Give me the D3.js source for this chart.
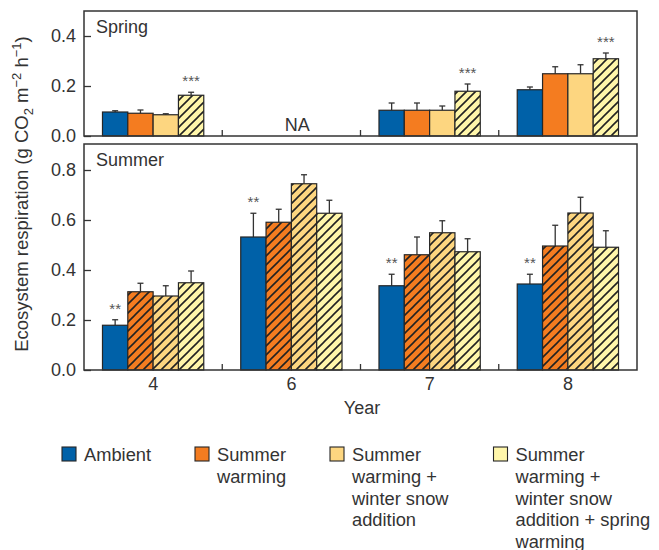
<!DOCTYPE html>
<html>
<head>
<meta charset="utf-8">
<script src="https://cdn.jsdelivr.net/npm/d3@7"></script>
<style>
  body { margin: 0; background: #fff; }
  svg { display: block; font-family: "Liberation Sans", Arial, Helvetica, sans-serif; }
</style>
</head>
<body>
<svg id="chart" width="659" height="550"></svg>
<script>
// Ecosystem respiration by year and treatment
const years = ["4", "6", "7", "8"];
const treatments = ["Ambient", "Summer warming", "Summer warming + winter snow addition",
  "Summer warming + winter snow addition + spring warming"];
const legendLines = [
  ["Ambient"],
  ["Summer", "warming"],
  ["Summer", "warming +", "winter snow", "addition"],
  ["Summer", "warming +", "winter snow", "addition + spring", "warming"]
];
const colors = ["#0061a8", "#f47c20", "#fdd680", "#fff6aa"];

// Spring season (year 6 not available)
const springMean = [
  [0.096, 0.091, 0.085, 0.163],
  null,
  [0.103, 0.103, 0.103, 0.179],
  [0.185, 0.249, 0.249, 0.309]
];
const springErr = [
  [0.005, 0.013, 0.004, 0.012],
  null,
  [0.029, 0.029, 0.017, 0.029],
  [0.011, 0.028, 0.036, 0.023]
];
const springStars = ["***", null, "***", "***"];

// Summer season
const summerMean = [
  [0.179, 0.313, 0.296, 0.349],
  [0.532, 0.591, 0.745, 0.627],
  [0.337, 0.461, 0.549, 0.473],
  [0.344, 0.496, 0.628, 0.491]
];
const summerErr = [
  [0.022, 0.034, 0.041, 0.047],
  [0.095, 0.052, 0.036, 0.052],
  [0.046, 0.071, 0.048, 0.052],
  [0.039, 0.083, 0.063, 0.066]
];
const summerStars = ["**", "**", "**", "**"];

const springTicks = [0.0, 0.2, 0.4];
const summerTicks = [0.0, 0.2, 0.4, 0.6, 0.8];

const svg = d3.select("#chart");
const ink = "#333";
const fs = 18;

// hatch pattern for warmed plots
const defs = svg.append("defs");
colors.forEach((c, i) => {
  const p = defs.append("pattern")
    .attr("id", "hatch" + i)
    .attr("patternUnits", "userSpaceOnUse")
    .attr("width", 9).attr("height", 9);
  p.append("rect").attr("width", 9).attr("height", 9).attr("fill", c);
  p.append("path")
    .attr("d", "M-2,2 l4,-4 M0,9 l9,-9 M7,11 l4,-4")
    .attr("stroke", "#222").attr("stroke-width", 1.6);
});

const left = 84, right = 637;
const x = d3.scaleBand().domain(years).range([left, right]).padding(0);
const xs = d3.scaleBand().domain(treatments).range([0, x.bandwidth()])
  .paddingInner(0).paddingOuter(0.73);

function panel(cfg) {
  const y = d3.scaleLinear().domain(cfg.domain).range([cfg.bottom, cfg.top]);
  const g = svg.append("g");

  // bars
  years.forEach((yr, gi) => {
    const vals = cfg.mean[gi];
    if (!vals) return;
    vals.forEach((v, ti) => {
      const bx = x(yr) + xs(treatments[ti]);
      const bw = xs.bandwidth();
      const top = y(v + cfg.err[gi][ti]);
      // error bar (upper half only)
      g.append("line")
        .attr("x1", bx + bw / 2).attr("x2", bx + bw / 2)
        .attr("y1", y(v)).attr("y2", top)
        .attr("stroke", ink).attr("stroke-width", 1.3);
      g.append("line")
        .attr("x1", bx + bw / 2 - 3).attr("x2", bx + bw / 2 + 3)
        .attr("y1", top).attr("y2", top)
        .attr("stroke", ink).attr("stroke-width", 1.3);
      const hatched = cfg.hatched(ti);
      g.append("rect")
        .attr("x", bx).attr("y", y(v))
        .attr("width", bw).attr("height", y(0) - y(v))
        .attr("fill", hatched ? `url(#hatch${ti})` : colors[ti])
        .attr("stroke", "#262626").attr("stroke-width", 1.2);
    });
    const st = cfg.stars[gi];
    if (st) {
      const si = cfg.starIndex;
      const bx = x(yr) + xs(treatments[si]) + xs.bandwidth() / 2;
      const v = vals[si] + cfg.err[gi][si];
      g.append("text")
        .attr("x", bx).attr("y", y(v) - 6)
        .attr("text-anchor", "middle")
        .attr("font-size", 15).attr("fill", "#555")
        .text(st);
    }
  });

  // frame
  g.append("rect")
    .attr("x", left).attr("y", cfg.top)
    .attr("width", right - left).attr("height", cfg.bottom - cfg.top)
    .attr("fill", "none").attr("stroke", ink).attr("stroke-width", 1.5);

  // y axis (ticks pointing inward)
  const ax = g.append("g")
    .attr("transform", `translate(${left},0)`)
    .call(d3.axisRight(y).tickValues(cfg.ticks).tickFormat(d3.format(".1f"))
      .tickSize(7));
  ax.select(".domain").remove();
  ax.selectAll(".tick line").attr("stroke", ink).attr("stroke-width", 1.3);
  ax.selectAll(".tick text").attr("font-size", fs).attr("fill", ink)
    .attr("text-anchor", "end").attr("x", -8).attr("font-family", null);

  // group separators along the baseline
  years.slice(1).forEach(yr => {
    g.append("line")
      .attr("x1", x(yr)).attr("x2", x(yr))
      .attr("y1", cfg.bottom).attr("y2", cfg.bottom - 6)
      .attr("stroke", ink).attr("stroke-width", 1.3);
  });

  g.append("text")
    .attr("x", 96).attr("y", cfg.top + 22)
    .attr("font-size", fs).attr("fill", ink)
    .text(cfg.title);
  return y;
}

panel({
  title: "Spring", top: 11, bottom: 136, domain: [0, 0.5],
  mean: springMean, err: springErr, stars: springStars, starIndex: 3,
  ticks: springTicks, hatched: ti => ti === 3
});

// NA label for year 6 in spring
svg.append("text")
  .attr("x", x("6") + x.bandwidth() / 2 + 6).attr("y", 131)
  .attr("text-anchor", "middle").attr("font-size", fs).attr("fill", ink)
  .text("NA");

panel({
  title: "Summer", top: 144, bottom: 370, domain: [0, 0.904],
  mean: summerMean, err: summerErr, stars: summerStars, starIndex: 0,
  ticks: summerTicks, hatched: ti => ti > 0
});

// x axis labels
const xa = svg.append("g")
  .attr("transform", "translate(0,370)")
  .call(d3.axisBottom(x).tickSize(0).tickPadding(7));
xa.select(".domain").remove();
xa.selectAll(".tick text").attr("font-size", fs).attr("fill", ink).attr("font-family", null);

svg.append("text")
  .attr("x", 362).attr("y", 414)
  .attr("text-anchor", "middle").attr("font-size", fs).attr("fill", ink)
  .text("Year");

// y axis title
const yt = svg.append("text")
  .attr("transform", "translate(28,194) rotate(-90)")
  .attr("text-anchor", "middle").attr("font-size", 18.5).attr("fill", ink);
yt.append("tspan").text("Ecosystem respiration (g CO");
yt.append("tspan").attr("font-size", 13).attr("dy", 5).text("2");
yt.append("tspan").attr("dy", -5).text(" m");
yt.append("tspan").attr("font-size", 13).attr("dy", -7).text("−2");
yt.append("tspan").attr("dy", 7).text(" h");
yt.append("tspan").attr("font-size", 13).attr("dy", -7).text("−1");
yt.append("tspan").attr("dy", 7).text(")");

// legend
const legendX = [62, 195, 330, 493.5];
treatments.forEach((t, i) => {
  const lg = svg.append("g").attr("transform", `translate(${legendX[i]},447)`);
  lg.append("rect").attr("width", 14).attr("height", 14)
    .attr("fill", colors[i]).attr("stroke", "#262626").attr("stroke-width", 1.1);
  const tx = lg.append("text").attr("x", 22).attr("y", 14)
    .attr("font-size", 18.3).attr("fill", ink);
  legendLines[i].forEach((line, k) => {
    tx.append("tspan").attr("x", 22).attr("dy", k === 0 ? 0 : 21.8).text(line);
  });
});
</script>
</body>
</html>
